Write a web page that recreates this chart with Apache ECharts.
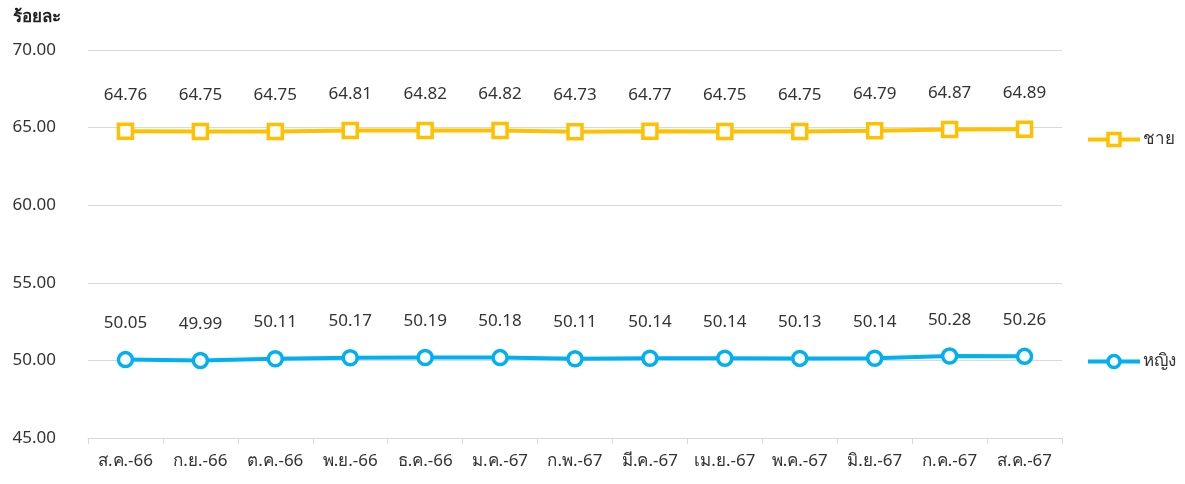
<!DOCTYPE html>
<html>
<head>
<meta charset="utf-8">
<script src="https://cdn.jsdelivr.net/npm/echarts@6/dist/echarts.min.js"></script>
<style>
  html, body { margin: 0; padding: 0; background: #fff; }
  #chart { width: 1185px; height: 484px; }
</style>
</head>
<body>
<div id="chart"></div>
<script>
// เดือน
const months = ["ส.ค.-66", "ก.ย.-66", "ต.ค.-66", "พ.ย.-66", "ธ.ค.-66", "ม.ค.-67", "ก.พ.-67",
  "มี.ค.-67", "เม.ย.-67", "พ.ค.-67", "มิ.ย.-67", "ก.ค.-67", "ส.ค.-67"];

// ร้อยละ ชาย / หญิง
const male = [64.76, 64.75, 64.75, 64.81, 64.82, 64.82, 64.73, 64.77, 64.75, 64.75, 64.79, 64.87, 64.89];
const female = [50.05, 49.99, 50.11, 50.17, 50.19, 50.18, 50.11, 50.14, 50.14, 50.13, 50.14, 50.28, 50.26];

const FONT = "Noto Sans, sans-serif";
const yellow = "#FFC000";
const blue = "#00B0F0";

function lineSeries(name, data, color, symbol) {
  return {
    name: name,
    type: "line",
    data: data,
    symbol: symbol,
    symbolSize: 14,
    lineStyle: { color: color, width: 4 },
    itemStyle: { color: "#fff", borderColor: color, borderWidth: 3.5 },
    label: {
      show: true,
      position: "top",
      distance: 19,
      fontSize: 17,
      color: "#333",
      fontFamily: FONT,
      formatter: (p) => p.value.toFixed(2),
    },
    emphasis: { disabled: true },
  };
}

function legendAt(name, top, color) {
  return {
    data: [name],
    left: 1086,
    top: top,
    padding: 0,
    itemWidth: 52,
    itemHeight: 15,
    itemGap: 4,
    lineStyle: { width: 4, color: color },
    itemStyle: { color: "#fff", borderColor: color, borderWidth: 3.5 },
    textStyle: { fontSize: 17, color: "#333", fontFamily: FONT, padding: [0, 0, 0, -2] },
  };
}

const chart = echarts.init(document.getElementById("chart"));
chart.setOption({
  animation: false,
  title: {
    text: "ร้อยละ",
    left: 8,
    top: 4,
    textStyle: { fontSize: 17, fontWeight: "bold", color: "#222", fontFamily: FONT },
  },
  legend: [legendAt("ชาย", 131, yellow), legendAt("หญิง", 353, blue)],
  grid: { left: 88, right: 123, top: 50, bottom: 46 },
  xAxis: {
    type: "category",
    data: months,
    boundaryGap: true,
    axisLine: { lineStyle: { color: "#d9d9d9" } },
    axisTick: { show: true, length: 6, lineStyle: { color: "#d9d9d9" } },
    axisLabel: { fontSize: 17, color: "#333", margin: 15, fontFamily: FONT, interval: 0 },
  },
  yAxis: {
    type: "value",
    min: 45,
    max: 70,
    interval: 5,
    axisLine: { show: false },
    axisTick: { show: false },
    splitLine: { lineStyle: { color: "#d9d9d9", width: 1 } },
    axisLabel: {
      fontSize: 17, color: "#333", fontFamily: FONT, margin: 32,
      formatter: (v) => v.toFixed(2),
    },
  },
  series: [
    lineSeries("ชาย", male, yellow, "rect"),
    lineSeries("หญิง", female, blue, "circle"),
  ],
});
</script>
</body>
</html>
